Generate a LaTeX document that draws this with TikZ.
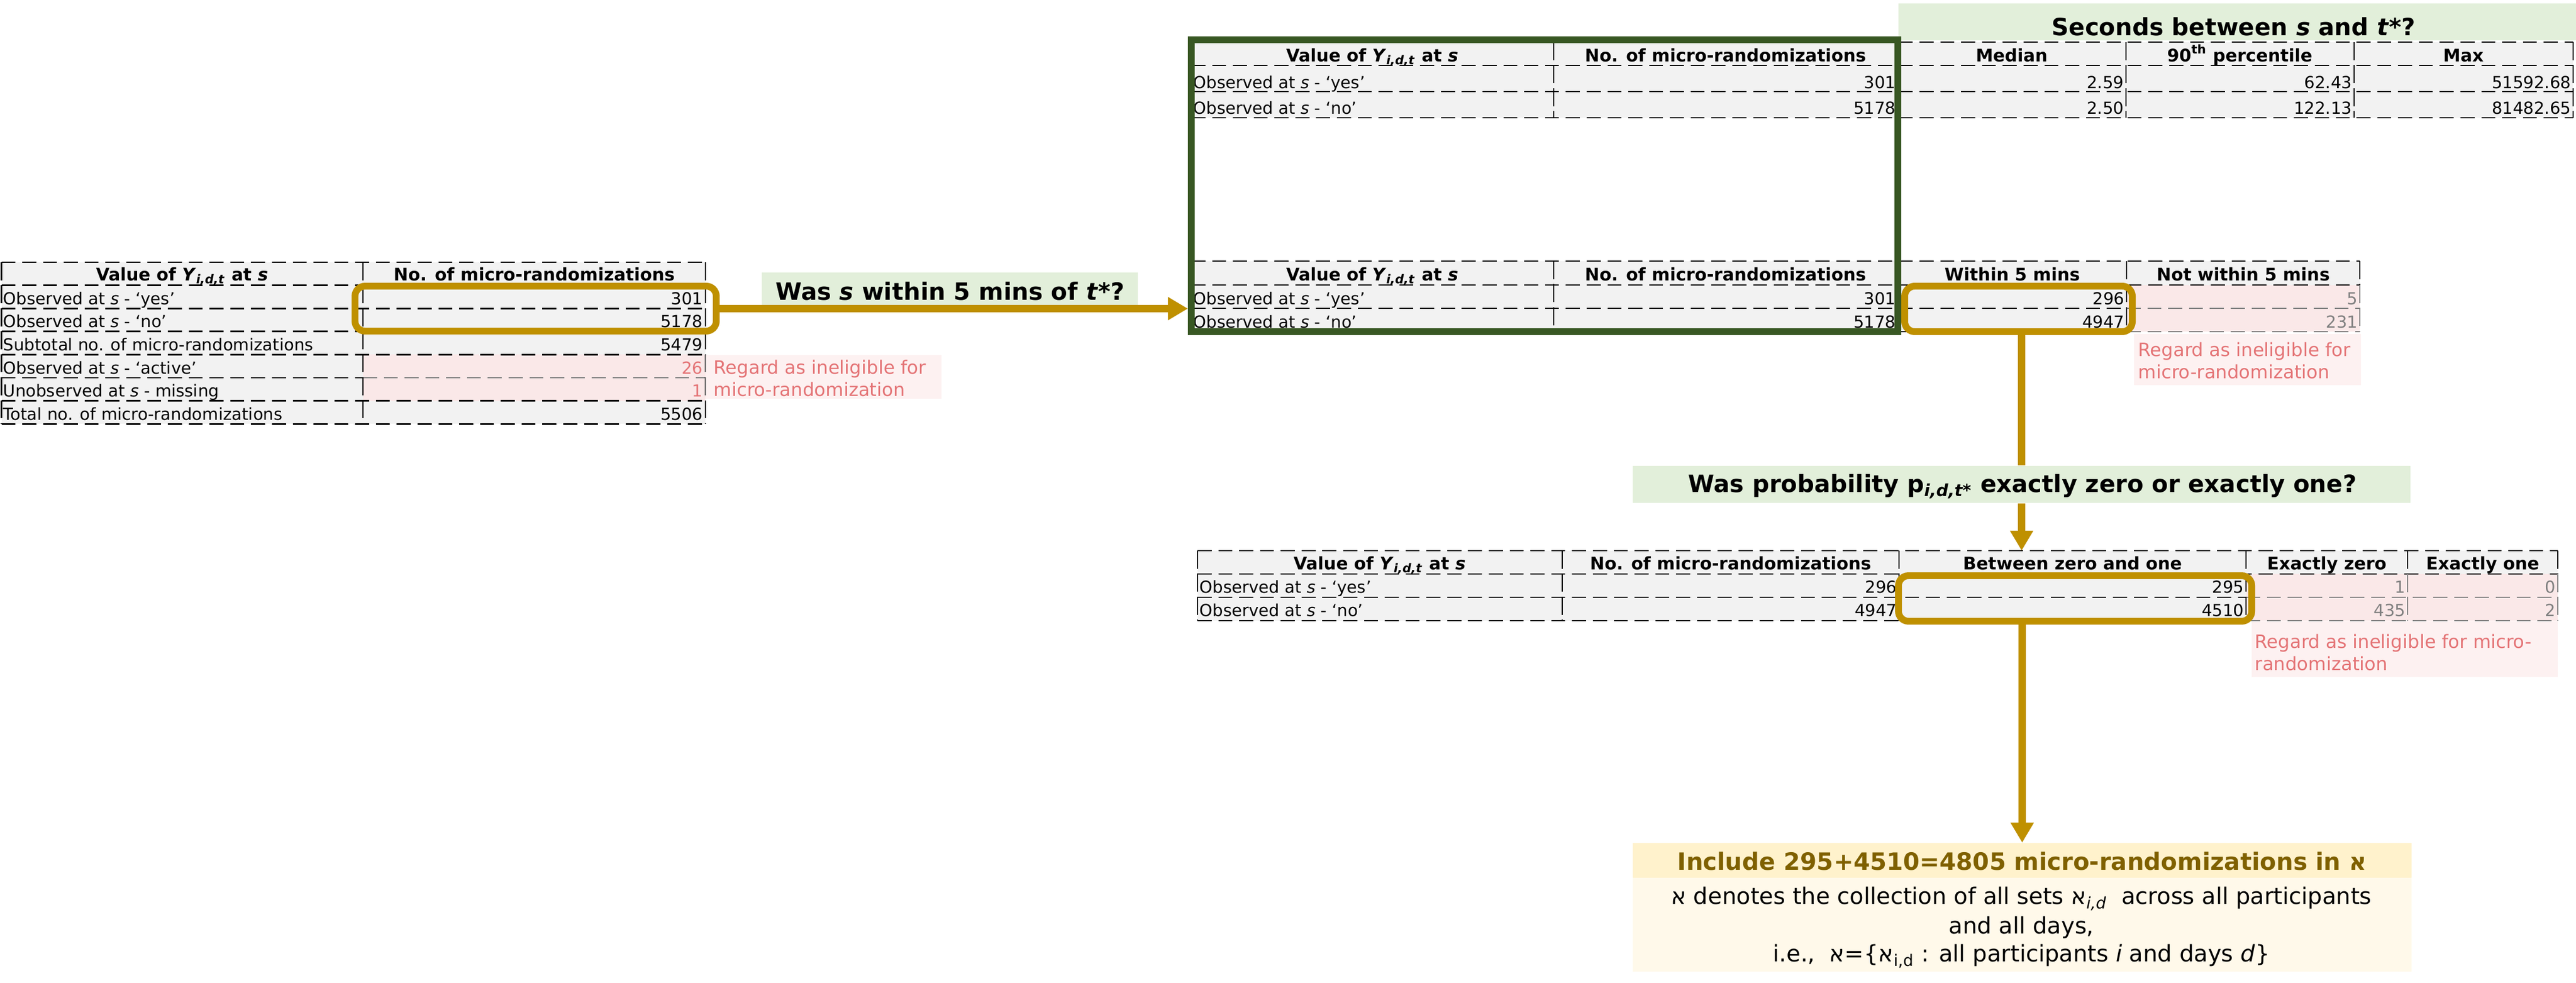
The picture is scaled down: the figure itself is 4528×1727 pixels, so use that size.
\documentclass[tikz,border=0pt]{standalone}
\usepackage{fontspec}
\setmainfont{DejaVu Sans}
\TeXXeTstate=1
\usepackage{tikz}
\usetikzlibrary{arrows.meta,fit,calc,backgrounds}
\usepackage{xcolor}

\definecolor{cellgrey}{RGB}{242,242,242}
\definecolor{cellpink}{RGB}{250,232,232}
\definecolor{notepink}{RGB}{253,241,241}
\definecolor{salmon}{RGB}{228,116,118}
\definecolor{greytxt}{RGB}{128,128,128}
\definecolor{gold}{RGB}{191,144,0}
\definecolor{framegreen}{RGB}{56,87,35}
\definecolor{qgreen}{RGB}{226,239,218}
\definecolor{ytitle}{RGB}{255,242,204}
\definecolor{ybody}{RGB}{255,249,234}
\definecolor{olive}{RGB}{127,96,0}

\newcommand{\tabfont}{\fontsize{8.3pt}{9.6pt}\selectfont}
\newcommand{\headfont}{\fontsize{8.7pt}{10pt}\selectfont\bfseries}
\newcommand{\notefont}{\fontsize{9.2pt}{11.3pt}\selectfont}
\newcommand{\qfont}{\fontsize{11.9pt}{13pt}\selectfont\bfseries}
\newcommand{\bodyfont}{\fontsize{11.4pt}{14.2pt}\selectfont}
\newcommand{\valY}{Value of \textit{Y}\textsubscript{\textit{i,d,t}} at \textit{s}}
\newcommand{\alef}{\mbox{\beginR א\endR}}

\begin{document}
\begin{tikzpicture}[x=0.01cm, y=-0.01cm,
	grid/.style = {line width=0.75pt, dash pattern=on 7pt off 3.4pt},
	vgrid/.style = {line width=0.75pt, dash pattern=on 9pt off 2.5pt},
	head/.style = {anchor=base, inner sep=0pt, font=\headfont},
	lab/.style = {anchor=base west, inner sep=0pt, font=\tabfont},
	val/.style = {anchor=base east, inner sep=0pt, font=\tabfont},
	goldbox/.style = {draw=gold, line width=3.4pt, rounded corners=5pt, inner sep=0pt},
	goldline/.style = {draw=gold, line width=3.7pt},
	goldarrow/.style = {goldline, -{Triangle[length=10pt,width=11pt]}},
	qbox/.style = {fill=qgreen, inner sep=0pt},
	qtext/.style = {anchor=base, inner sep=0pt, font=\qfont},
	notebox/.style = {fill=notepink, inner sep=0pt},
	notetext/.style = {anchor=west, inner sep=0pt, align=left, text=salmon, font=\notefont}]
	\useasboundingbox (0,0) rectangle (4528,1727);

	% left table
	\fill[cellgrey] (2.5,461) rectangle (1240,745.2);
	\fill[cellpink] (638,623.4) rectangle (1240,704.6);
	\foreach \j in {0,1,2,3,4,6,7}
		\draw[grid] (2.5,461+40.6*\j) -- (1240,461+40.6*\j);
	\draw[grid] (2.5,664) -- (638,664);
	\draw[grid, greytxt] (638,664) -- (1240,664);
	\foreach \x in {2.5,638,1240}
		\draw[vgrid] (\x,461) -- (\x,745.2);
	\node[head] (lh1) at (320,493) {\valY};
	\node[head] (lh2) at (939,493) {No. of micro-randomizations};
	\foreach \lab/\v/\c [count=\k] in {Observed at \textit{s} - `yes'/301/black,
		Observed at \textit{s} - `no'/5178/black,
		Subtotal no. of micro-randomizations/5479/black,
		Observed at \textit{s} - `active'/26/salmon,
		Unobserved at \textit{s} - missing/1/salmon,
		Total no. of micro-randomizations/5506/black}
	{
		\node[lab] (la\k) at (5,494.6+40.6*\k) {\lab};
		\node[val, text=\c] (lv\k) at (1236,494.6+40.6*\k) {\v};
	}
	\node[goldbox, fit={(624,503) (1259,582)}] (sel1) {};
	\node[notebox, fit={(1240,624) (1655,701)}] (n1) {};
	\node[notetext] (n1t) at (1254,665) {Regard as ineligible for\\micro-randomization};
	\node[qbox, fit={(1339,479) (2000,538)}] (q1) {};
	\node[qtext] (q1t) at (1670,527) {Was \textit{s} within 5 mins of \textit{t}*?};

	% top table and seconds
	\node[qbox, fit={(3337,6) (4528,71)}] (q0) {};
	\node[qtext] (q0t) at (3926,62) {Seconds between \textit{s} and \textit{t}*?};
	\fill[cellgrey] (2094,74) rectangle (4523,207);
	\foreach \y in {74,115,161,207}
		\draw[grid] (2094,\y) -- (4523,\y);
	\foreach \x in {2094,2731,3336,3737,4138,4523}
		\draw[vgrid] (\x,74) -- (\x,207);
	\node[head] (th1) at (2412,108) {\valY};
	\node[head] (th2) at (3033,108) {No. of micro-randomizations};
	\node[head] (th3) at (3536,108) {Median};
	\node[head] (th4) at (3937,108) {90\textsuperscript{th} percentile};
	\node[head] (th5) at (4330,108) {Max};
	\foreach \lab/\a/\b/\c/\d/\yy [count=\k] in {Observed at \textit{s} - `yes'/301/2.59/62.43/51592.68/155,
		Observed at \textit{s} - `no'/5178/2.50/122.13/81482.65/200}
	{
		\node[lab] (ta\k) at (2097,\yy) {\lab};
		\node[val] (tb\k) at (3333,\yy) {\a};
		\node[val] (tc\k) at (3734,\yy) {\b};
		\node[val] (td\k) at (4135,\yy) {\c};
		\node[val] (te\k) at (4520,\yy) {\d};
	}

	% within 5 mins table
	\fill[cellgrey] (2094,459) rectangle (4148,583);
	\fill[cellpink] (3738,501) rectangle (4148,583);
	\foreach \y in {459,501}
		\draw[grid] (2094,\y) -- (4148,\y);
	\foreach \y in {542,583}
	{
		\draw[grid] (2094,\y) -- (3738,\y);
		\draw[grid, greytxt] (3738,\y) -- (4148,\y);
	}
	\foreach \x in {2094,2731,3336,3738}
		\draw[vgrid] (\x,459) -- (\x,583);
	\draw[vgrid] (4148,459) -- (4148,501);
	\draw[vgrid, greytxt] (4148,501) -- (4148,583);
	\node[head] (wh1) at (2412,493) {\valY};
	\node[head] (wh2) at (3033,493) {No. of micro-randomizations};
	\node[head] (wh3) at (3537,493) {Within 5 mins};
	\node[head] (wh4) at (3943,493) {Not within 5 mins};
	\foreach \lab/\a/\b/\c/\yy [count=\k] in {Observed at \textit{s} - `yes'/301/296/5/535,
		Observed at \textit{s} - `no'/5178/4947/231/576}
	{
		\node[lab] (wa\k) at (2097,\yy) {\lab};
		\node[val] (wb\k) at (3333,\yy) {\a};
		\node[val] (wc\k) at (3735,\yy) {\b};
		\node[val, text=greytxt] (wd\k) at (4145,\yy) {\c};
	}
	\node[goldbox, fit={(3348,503) (3748,583)}] (sel2) {};
	\node[notebox, fit={(3751,587) (4150,677)}] (n2) {};
	\node[notetext] (n2t) at (3758,634) {Regard as ineligible for\\micro-randomization};

	\node[draw=framegreen, line width=3.4pt, inner sep=0pt, fit={(2094,70) (3336,583)}] (frame) {};
	\draw[goldarrow] (sel1.east) -- (sel1.east -| frame.west);

	% probability table
	\node[qbox, fit={(2870,819) (4237,884)}] (q2) {};
	\node[qtext] (q2t) at (3555,865) {Was probability p\textsubscript{\textit{i,d,t*}} exactly zero or exactly one?};
	\fill[cellgrey] (2105,968) rectangle (4496,1091);
	\fill[cellpink] (3948,1009) rectangle (4496,1091);
	\foreach \y in {968,1009}
		\draw[grid] (2105,\y) -- (4496,\y);
	\foreach \y in {1050,1091}
	{
		\draw[grid] (2105,\y) -- (3948,\y);
		\draw[grid, greytxt] (3948,\y) -- (4496,\y);
	}
	\foreach \x in {2105,2746,3338,3948}
		\draw[vgrid] (\x,968) -- (\x,1091);
	\foreach \x in {4232,4496}
	{
		\draw[vgrid] (\x,968) -- (\x,1009);
		\draw[vgrid, greytxt] (\x,1009) -- (\x,1091);
	}
	\coordinate (bt) at (3338,968);
	\node[head] (ph1) at (2425,1001) {\valY};
	\node[head] (ph2) at (3042,1001) {No. of micro-randomizations};
	\node[head] (ph3) at (3643,1001) {Between zero and one};
	\node[head] (ph4) at (4090,1001) {Exactly zero};
	\node[head] (ph5) at (4364,1001) {Exactly one};
	\foreach \lab/\a/\b/\c/\d/\yy [count=\k] in {Observed at \textit{s} - `yes'/296/295/1/0/1042,
		Observed at \textit{s} - `no'/4947/4510/435/2/1083}
	{
		\node[lab] (pa\k) at (2108,\yy) {\lab};
		\node[val] (pb\k) at (3335,\yy) {\a};
		\node[val] (pc\k) at (3945,\yy) {\b};
		\node[val, text=greytxt] (pd\k) at (4229,\yy) {\c};
		\node[val, text=greytxt] (pe\k) at (4493,\yy) {\d};
	}
	\node[goldbox, fit={(3337,1012) (3958,1092)}] (sel3) {};
	\node[notebox, fit={(3958,1092) (4496,1190)}] (n3) {};
	\node[notetext] (n3t) at (3963,1147) {Regard as ineligible for micro-\\randomization};

	\draw[goldline] (q2.north |- sel2.south) -- (q2.north);
	\draw[goldarrow] (q2.south) -- (q2.south |- bt);

	% result
	\node[fill=ytitle, inner sep=0pt, fit={(2870,1482) (4239,1543)}] (fint) {};
	\node[fill=ybody, inner sep=0pt, fit={(2870,1543) (4239,1708)}] (finb) {};
	\node[qtext, text=olive] (fintt) at (3554,1529) {Include 295+4510=4805 micro-randomizations in \alef};
	\node[anchor=base, inner sep=0pt, font=\bodyfont] (fin1) at (3553,1589) {\alef{} denotes the collection of all sets \alef\textsubscript{\textit{i,d}}~ across all participants};
	\node[anchor=base, inner sep=0pt, font=\bodyfont] (fin2) at (3553,1641) {and all days,};
	\node[anchor=base, inner sep=0pt, font=\bodyfont] (fin3) at (3553,1690) {i.e.,~ \alef=\{\alef\textsubscript{i,d} : all participants \textit{i} and days \textit{d}\}};
	\draw[goldarrow] (sel3.south -| fint.north) -- (fint.north);
\end{tikzpicture}
\end{document}
